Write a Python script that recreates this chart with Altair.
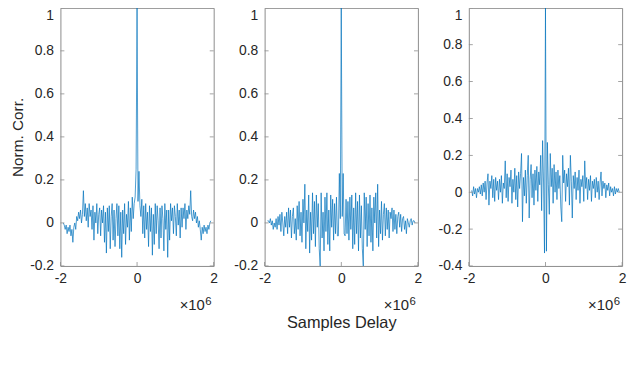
import altair as alt
import pandas as pd

# lag axis in units of 10^6 samples
LAG_START = -1.925
LAG_STEP = 0.025

corr_1 = [
    0.00, -0.01, -0.03, -0.01, -0.05, -0.02, -0.04, -0.01, -0.06, -0.03,
    -0.09, -0.02, 0.00, -0.03, 0.03, 0.01, 0.05, 0.02, 0.06, 0.00,
    0.04, 0.15, 0.03, 0.09, 0.01, 0.07, -0.02, 0.09, 0.03, 0.06,
    -0.03, 0.08, -0.08, 0.05, 0.00, 0.09, -0.05, 0.04, 0.07, -0.06,
    0.06, 0.00, 0.08, -0.09, 0.05, -0.14, 0.07, -0.04, 0.08, -0.12,
    0.03, 0.09, -0.08, 0.06, -0.11, 0.02, 0.09, -0.06, 0.08, -0.12,
    0.05, -0.16, 0.06, -0.05, 0.09, -0.10, 0.04, -0.02, 0.10, -0.08,
    0.07, -0.04, 0.12, 0.02, 0.09, 0.12, 0.25,
    1.00,
    0.10, 0.24, 0.08, 0.03, 0.11, -0.05, 0.08, -0.07, 0.09, -0.03,
    0.05, -0.11, 0.08, -0.04, 0.07, -0.15, 0.04, -0.10, 0.09, -0.05,
    0.08, 0.01, -0.12, 0.07, -0.07, 0.08, 0.02, -0.13, 0.09, -0.03,
    0.06, -0.16, 0.06, -0.08, 0.09, 0.01, 0.07, -0.05, 0.08, 0.03,
    -0.06, 0.09, -0.01, 0.06, -0.07, 0.07, -0.02, 0.07, 0.02, 0.09,
    -0.03, 0.06, 0.02, 0.08, 0.04, 0.15, 0.03, 0.01, 0.06, 0.02,
    0.05, 0.00, 0.03, -0.02, 0.01, -0.03, -0.08, -0.02, -0.05, -0.01,
    -0.04, -0.02, -0.05, -0.01, -0.03, 0.00, 0.01,
]

corr_2 = [
    0.01, 0.01, 0.00, 0.02, -0.01, 0.01, -0.03, 0.00, -0.02, 0.02,
    -0.03, 0.03, -0.01, 0.04, -0.04, 0.05, 0.00, -0.06, 0.03, -0.02,
    0.05, -0.05, 0.07, -0.02, 0.06, -0.07, 0.03, 0.07, -0.05, 0.02,
    -0.08, 0.08, -0.03, 0.10, -0.06, 0.05, -0.09, 0.11, 0.00, 0.18,
    -0.12, 0.06, -0.04, 0.13, -0.14, 0.05, -0.08, 0.14, -0.05, 0.10,
    -0.11, 0.13, -0.02, 0.09, -0.12, -0.20, 0.14, -0.07, 0.05, -0.13,
    0.12, -0.04, 0.14, -0.10, 0.06, -0.13, 0.13, -0.02, 0.11, -0.08,
    0.09, -0.05, 0.12, -0.06, -0.06, 0.23, 0.02,
    1.00,
    0.03, 0.23, -0.05, -0.06, 0.11, -0.05, 0.10, -0.08, 0.12, -0.03,
    0.13, -0.12, 0.07, -0.10, 0.14, -0.05, 0.10, -0.13, 0.13, -0.07,
    0.08, -0.12, -0.20, 0.14, -0.03, 0.12, -0.11, 0.09, -0.06, 0.13,
    -0.09, 0.07, -0.13, 0.12, 0.00, 0.14, -0.07, 0.18, -0.11, 0.06,
    -0.05, 0.10, -0.08, 0.04, 0.09, -0.06, 0.07, -0.03, 0.06, -0.07,
    0.05, 0.02, 0.07, -0.04, 0.06, -0.03, 0.04, -0.05, 0.03, 0.05,
    -0.02, 0.04, -0.04, 0.02, 0.03, -0.03, 0.01, -0.05, 0.02, 0.00,
    -0.02, 0.01, 0.02, -0.01, 0.01, 0.01, 0.00,
]

corr_3 = [
    0.01, -0.02, 0.03, -0.01, 0.02, -0.03, 0.02, 0.00, 0.03, -0.01,
    0.04, -0.02, 0.05, 0.00, 0.06, -0.04, 0.05, 0.10, -0.07, 0.06,
    0.02, 0.09, -0.03, 0.07, -0.05, 0.08, 0.01, 0.06, -0.04, 0.07,
    0.00, 0.09, -0.06, 0.05, 0.02, 0.17, -0.03, 0.10, -0.05, 0.08,
    0.03, 0.12, -0.06, 0.07, 0.00, 0.13, -0.04, 0.09, -0.08, 0.11,
    0.02, 0.10, 0.21, -0.16, 0.08, -0.02, 0.12, -0.06, 0.09, 0.20,
    -0.14, 0.07, 0.15, -0.03, 0.10, -0.07, 0.12, 0.01, 0.14, -0.05,
    0.11, 0.04, 0.20, -0.10, 0.28, 0.05, -0.33,
    1.00,
    -0.32, 0.27, 0.04, -0.12, 0.21, 0.03, 0.13, -0.06, 0.15, 0.00,
    0.11, -0.04, 0.12, 0.02, 0.09, -0.08, -0.16, 0.20, 0.05, 0.12,
    -0.05, 0.10, 0.03, 0.13, -0.07, 0.20, 0.06, -0.14, 0.09, 0.02,
    0.11, -0.04, 0.08, 0.01, 0.12, -0.06, 0.07, 0.03, 0.09, -0.05,
    0.17, 0.02, 0.08, -0.04, 0.07, 0.01, 0.09, -0.05, 0.06, 0.02,
    0.07, -0.03, 0.08, 0.00, 0.06, -0.04, 0.05, 0.11, -0.02, 0.06,
    0.02, 0.05, -0.03, 0.04, 0.01, 0.05, -0.02, 0.03, 0.00, 0.02,
    -0.02, 0.03, -0.01, 0.02, 0.00, 0.02, 0.00,
]

x_ticks = [-2, 0, 2]
y_ticks_12 = [-0.2, 0, 0.2, 0.4, 0.6, 0.8, 1]
y_ticks_3 = [-0.4, -0.2, 0, 0.2, 0.4, 0.6, 0.8, 1]
y_domain_12 = [-0.2, 1]
y_domain_3 = [-0.4, 1]
y_title = "Norm. Corr."
x_title = "Samples Delay"
exp_base = "×10"
exp_power = "6"

FONT = "Liberation Sans"
LINE = "#0072BD"
FRAME = "#8c8c8c"
TEXT = "#262626"
W, H = 155, 261

LABEL_EXPR = "datum.value < 0 ? '-' + format(-datum.value, '~g') : format(datum.value, '~g')"


def lags(n):
    return [round(LAG_START + LAG_STEP * i, 4) for i in range(n)]


def panel(vals, ydom, yticks, ytitle, xtitle):
    df = pd.DataFrame({"lag": lags(len(vals)), "corr": vals})
    xs = alt.Scale(domain=[-2, 2], nice=False, zero=False)
    ys = alt.Scale(domain=ydom, nice=False, zero=False)
    xaxis = alt.Axis(
        values=x_ticks, title=xtitle, grid=False, domain=False, ticks=False,
        labelFont=FONT, labelFontSize=14, labelColor=TEXT, labelPadding=6,
        labelExpr=LABEL_EXPR, labelFlush=False,
        titleFont=FONT, titleFontSize=16.5, titleColor=TEXT,
        titleFontWeight="normal", titlePadding=29,
    )
    yaxis = alt.Axis(
        values=yticks, title=ytitle, grid=False, domain=False, ticks=False,
        labelFont=FONT, labelFontSize=14, labelColor=TEXT, labelPadding=7,
        labelExpr=LABEL_EXPR, labelFlush=False,
        labelBaseline={"condition": {"test": "datum.value >= 1", "value": "top"}, "value": "middle"},
        labelOffset={"condition": {"test": "datum.value >= 1", "value": 1}, "value": 0},
        titleFont=FONT, titleFontSize=15.5, titleColor=TEXT,
        titleFontWeight="normal", titlePadding=4,
    )
    line = alt.Chart(df).mark_line(color=LINE, strokeWidth=0.7, clip=True).encode(
        x=alt.X("lag:Q", scale=xs, axis=xaxis),
        y=alt.Y("corr:Q", scale=ys, axis=yaxis),
    )
    yt = pd.DataFrame({"corr": yticks})
    xt = pd.DataFrame({"lag": x_ticks})
    tick_style = dict(size=4, thickness=0.8, color=FRAME, opacity=1)
    left_t = alt.Chart(yt).mark_tick(orient="horizontal", xOffset=2, **tick_style).encode(
        y=alt.Y("corr:Q", scale=ys, axis=yaxis), x=alt.value(0))
    right_t = alt.Chart(yt).mark_tick(orient="horizontal", xOffset=-2, **tick_style).encode(
        y=alt.Y("corr:Q", scale=ys, axis=yaxis), x=alt.value(W))
    bottom_t = alt.Chart(xt).mark_tick(orient="vertical", yOffset=-2, **tick_style).encode(
        x=alt.X("lag:Q", scale=xs, axis=xaxis), y=alt.value(H))
    base_txt = alt.Chart(pd.DataFrame({"t": [exp_base]})).mark_text(
        align="right", baseline="alphabetic", font=FONT, fontSize=15, color=TEXT
    ).encode(text="t:N", x=alt.value(W - 9), y=alt.value(H + 45))
    pow_txt = alt.Chart(pd.DataFrame({"t": [exp_power]})).mark_text(
        align="left", baseline="alphabetic", font=FONT, fontSize=11.5, color=TEXT
    ).encode(text="t:N", x=alt.value(W - 8.5), y=alt.value(H + 39))
    return alt.layer(line, left_t, right_t, bottom_t, base_txt, pow_txt).properties(
        width=W, height=H)


p1 = panel(corr_1, y_domain_12, y_ticks_12, y_title, None)
p2 = panel(corr_2, y_domain_12, y_ticks_12, None, x_title)
p3 = panel(corr_3, y_domain_3, y_ticks_3, None, None)

chart = alt.hconcat(p1, p2, p3, spacing=51.5, bounds="flush").configure_view(
    stroke=FRAME, strokeWidth=1
).properties(
    padding={"left": 2, "top": -3, "right": 5, "bottom": 5},
    background="white",
)

chart.save("out.html", embed_options={"renderer": "svg", "actions": False})
